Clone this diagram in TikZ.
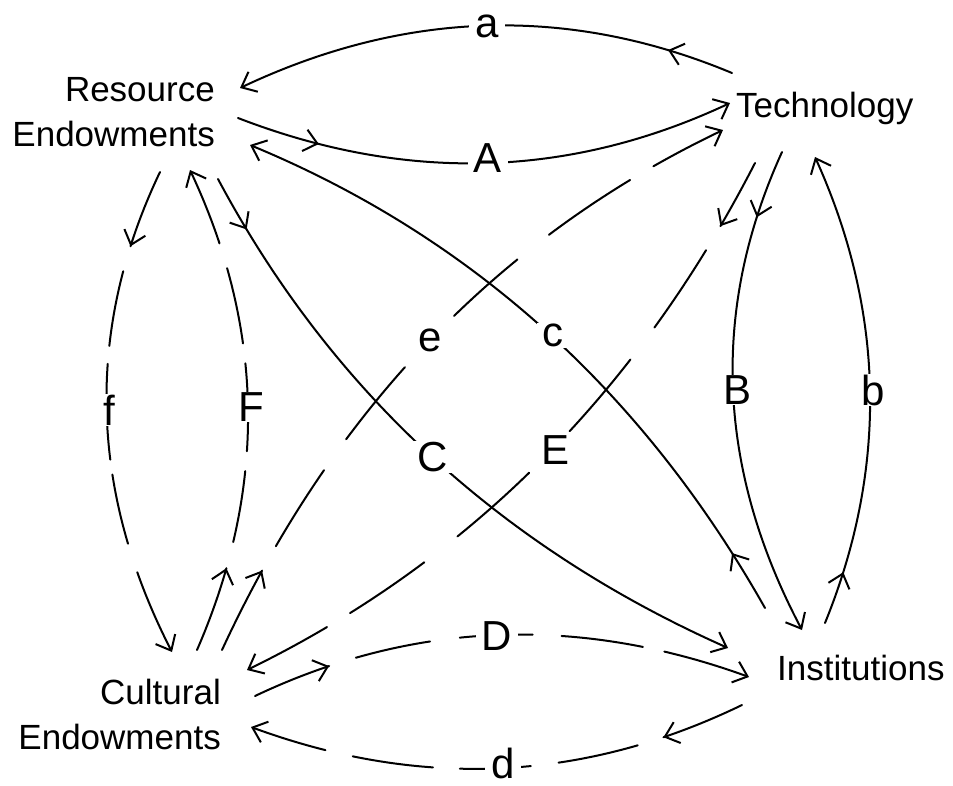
\documentclass[tikz,border=0pt]{standalone}
\usepackage{fontspec}
\setmainfont{Liberation Sans}
\usetikzlibrary{arrows.meta,decorations.markings}
\tikzset{
  tipb/.tip={Straight Barb[length=13pt,width=22pt]},
  conn/.style={line width=2pt, line cap=round, -tipb},
  midarr/.style={postaction={decorate,decoration={markings,mark=at position #1 with {\arrow{tipb}}}}},
  nd/.style={inner sep=0pt, font=\fontsize{35}{45}\selectfont},
  lbl/.style={fill=white, inner xsep=6pt, inner ysep=1pt, font=\fontsize{42}{42}\selectfont},
}
\begin{document}
\begin{tikzpicture}[x=1pt,y=-1pt]
\useasboundingbox (0,0) rectangle (953,785);
% nodes
\node[nd, anchor=south east, align=right] (RE) at (215,147) {Resource\\Endowments};
\node[nd, anchor=base west] (T) at (736,117) {Technology};
\node[nd, anchor=south east, align=right] (CE) at (221,750) {Cultural\\Endowments};
\node[nd, anchor=base west] (I) at (777,680) {Institutions};
% solid connectors
\draw[conn, midarr=68pt] ([shift={(-4,-44)}]T.base west) .. controls (569,5) and (405,10) .. ([shift={(25,-59)}]RE.south east);
\draw[conn, midarr=85pt] ([shift={(23,-29)}]RE.south east) .. controls (406,183) and (570,178) .. ([shift={(-6,-14)}]T.base west);
\draw[conn, midarr=70pt] ([shift={(46,35)}]T.base west) .. controls (710,310) and (717,469) .. ([shift={(25,-50)}]I.base west);
\draw[conn, midarr=54pt] ([shift={(48,-57)}]I.base west) .. controls (888,468) and (885,312) .. ([shift={(79,40)}]T.base west);
\draw[conn, midarr=64pt] ([shift={(-12,-72)}]I.base west) .. controls (643,392) and (472,237) .. ([shift={(35,-2)}]RE.south east);
\draw[conn, midarr=58pt] ([shift={(3,32)}]RE.south east) .. controls (331,391) and (501,547) .. ([shift={(-49,-32)}]I.base west);
% dashed connectors
\draw[conn, midarr=89pt, dash pattern=on 89pt off 28pt on 90pt off 38pt on 93pt off 71pt on 85pt off 40pt on 98pt off 27pt on 200pt off 0pt]
  ([shift={(1,-100)}]CE.south east) .. controls (333,410) and (499,237) .. ([shift={(-13,13)}]T.base west);
\draw[conn, midarr=72pt, dash pattern=on 72pt off 28pt on 93pt off 40pt on 94pt off 58pt on 96pt off 42pt on 90pt off 27pt on 200pt off 0pt]
  ([shift={(19,46)}]T.base west) .. controls (637,393) and (468,562) .. ([shift={(26,-80)}]CE.south east);
\draw[conn, midarr=80pt, dash pattern=on 80pt off 26pt on 76pt off 18pt on 96pt off 15pt on 71pt off 30pt on 200pt off 0pt]
  ([shift={(-55,25)}]RE.south east) .. controls (85,329) and (89,490) .. ([shift={(-49,-98)}]CE.south east);
\draw[conn, midarr=87pt, dash pattern=on 87pt off 27pt on 72pt off 20pt on 88pt off 20pt on 77pt off 26pt on 200pt off 0pt]
  ([shift={(-24,-100)}]CE.south east) .. controls (267,489) and (265,330) .. ([shift={(-25,23)}]RE.south east);
\draw[conn, midarr=80pt, dash pattern=on 80pt off 28pt on 76pt off 30pt on 73pt off 29pt on 82pt off 22pt on 200pt off 0pt]
  ([shift={(34,-54)}]CE.south east) .. controls (413,621) and (578,615) .. ([shift={(-28,-3)}]I.base west);
\draw[conn, midarr=85pt, dash pattern=on 85pt off 27pt on 81pt off 28pt on 71pt off 27pt on 81pt off 28pt on 200pt off 0pt]
  ([shift={(-35,25)}]I.base west) .. controls (583,782) and (420,789) .. ([shift={(30,-23)}]CE.south east);
% labels
\node[lbl] (la) at (487,26) {a};
\node[lbl] (lA) at (488,158) {A};
\node[lbl] (lB) at (737,390) {B};
\node[lbl] (lb) at (873,390) {b};
\node[lbl] (lc) at (553,335) {c};
\node[lbl] (lC) at (433,457) {C};
\node[lbl] (le) at (430,340) {e};
\node[lbl] (lE) at (556,450) {E};
\node[lbl] (lf) at (109,410) {f};
\node[lbl] (lF) at (251,407) {F};
\node[lbl] (lD) at (497,636) {D};
\node[lbl] (ld) at (503,763) {d};
\end{tikzpicture}
\end{document}
